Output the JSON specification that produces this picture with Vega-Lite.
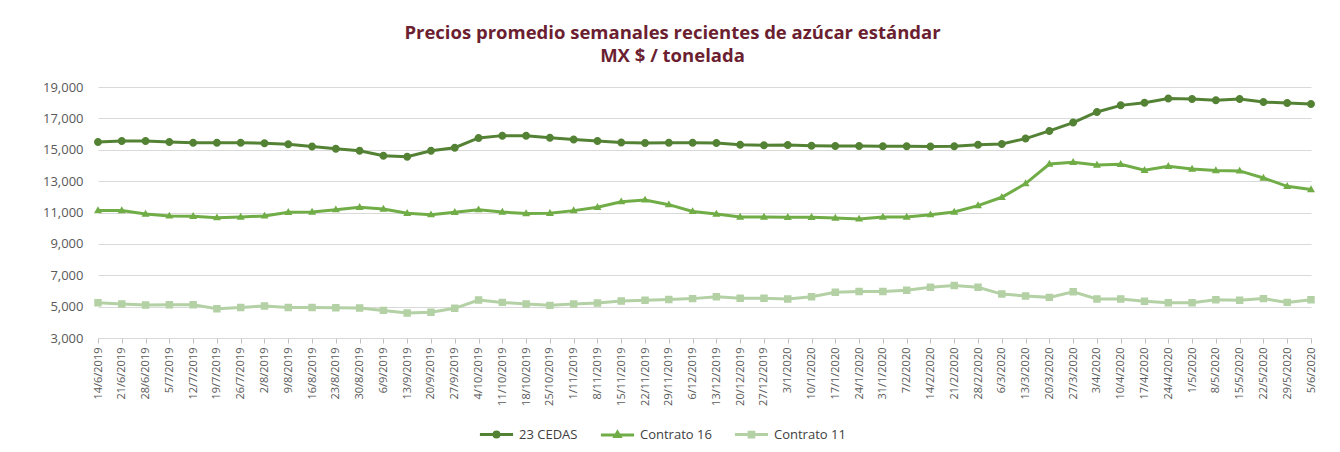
{
  "$schema": "https://vega.github.io/schema/vega-lite/v6.json",
  "autosize": {"type": "none"},
  "width": 1213,
  "height": 251,
  "padding": {"left": 98, "top": 87, "right": 29, "bottom": 114},
  "background": "white",
  "config": {
    "font": "Open Sans",
    "view": {"stroke": null}
  },
  "title": {
    "text": ["Precios promedio semanales recientes de azúcar estándar", "MX $ / tonelada"],
    "font": "Open Sans",
    "fontSize": 18.5,
    "fontWeight": "bold",
    "color": "#6B1F31",
    "anchor": "middle",
    "dx": -32,
    "lineHeight": 23,
    "offset": 16
  },
  "datasets": {
    "raw": [
      {"d":"14/6/2019","c":15490,"c16":11120,"c11":5250},
      {"d":"21/6/2019","c":15560,"c16":11120,"c11":5170},
      {"d":"28/6/2019","c":15560,"c16":10900,"c11":5100},
      {"d":"5/7/2019","c":15490,"c16":10780,"c11":5120},
      {"d":"12/7/2019","c":15450,"c16":10760,"c11":5120},
      {"d":"19/7/2019","c":15450,"c16":10670,"c11":4870},
      {"d":"26/7/2019","c":15450,"c16":10710,"c11":4950},
      {"d":"2/8/2019","c":15410,"c16":10780,"c11":5040},
      {"d":"9/8/2019","c":15350,"c16":11010,"c11":4950},
      {"d":"16/8/2019","c":15200,"c16":11030,"c11":4950},
      {"d":"23/8/2019","c":15070,"c16":11180,"c11":4930},
      {"d":"30/8/2019","c":14940,"c16":11330,"c11":4910},
      {"d":"6/9/2019","c":14620,"c16":11220,"c11":4760},
      {"d":"13/9/2019","c":14560,"c16":10950,"c11":4590},
      {"d":"20/9/2019","c":14940,"c16":10860,"c11":4640},
      {"d":"27/9/2019","c":15130,"c16":11010,"c11":4890},
      {"d":"4/10/2019","c":15750,"c16":11180,"c11":5420},
      {"d":"11/10/2019","c":15900,"c16":11030,"c11":5270},
      {"d":"18/10/2019","c":15900,"c16":10930,"c11":5170},
      {"d":"25/10/2019","c":15770,"c16":10950,"c11":5080},
      {"d":"1/11/2019","c":15660,"c16":11120,"c11":5170},
      {"d":"8/11/2019","c":15560,"c16":11330,"c11":5230},
      {"d":"15/11/2019","c":15470,"c16":11690,"c11":5360},
      {"d":"22/11/2019","c":15430,"c16":11800,"c11":5400},
      {"d":"29/11/2019","c":15450,"c16":11500,"c11":5460},
      {"d":"6/12/2019","c":15450,"c16":11070,"c11":5510},
      {"d":"13/12/2019","c":15430,"c16":10900,"c11":5630},
      {"d":"20/12/2019","c":15320,"c16":10710,"c11":5530},
      {"d":"27/12/2019","c":15280,"c16":10710,"c11":5530},
      {"d":"3/1/2020","c":15300,"c16":10690,"c11":5490},
      {"d":"10/1/2020","c":15260,"c16":10690,"c11":5630},
      {"d":"17/1/2020","c":15240,"c16":10650,"c11":5910},
      {"d":"24/1/2020","c":15240,"c16":10590,"c11":5970},
      {"d":"31/1/2020","c":15230,"c16":10710,"c11":5970},
      {"d":"7/2/2020","c":15220,"c16":10710,"c11":6040},
      {"d":"14/2/2020","c":15200,"c16":10860,"c11":6230},
      {"d":"21/2/2020","c":15220,"c16":11030,"c11":6340},
      {"d":"28/2/2020","c":15320,"c16":11440,"c11":6230},
      {"d":"6/3/2020","c":15370,"c16":11970,"c11":5800},
      {"d":"13/3/2020","c":15710,"c16":12840,"c11":5680},
      {"d":"20/3/2020","c":16200,"c16":14090,"c11":5590},
      {"d":"27/3/2020","c":16730,"c16":14200,"c11":5950},
      {"d":"3/4/2020","c":17410,"c16":14030,"c11":5490},
      {"d":"10/4/2020","c":17830,"c16":14070,"c11":5490},
      {"d":"17/4/2020","c":18000,"c16":13690,"c11":5340},
      {"d":"24/4/2020","c":18260,"c16":13940,"c11":5250},
      {"d":"1/5/2020","c":18240,"c16":13770,"c11":5250},
      {"d":"8/5/2020","c":18150,"c16":13670,"c11":5440},
      {"d":"15/5/2020","c":18240,"c16":13650,"c11":5400},
      {"d":"22/5/2020","c":18040,"c16":13200,"c11":5510},
      {"d":"29/5/2020","c":17980,"c16":12670,"c11":5270},
      {"d":"5/6/2020","c":17920,"c16":12460,"c11":5440}
    ]
  },
  "data": {"name": "raw"},
  "transform": [
    {"fold": ["c", "c16", "c11"], "as": ["key", "v"]},
    {"lookup": "key", "from": {"data": {"values": [
      {"key": "c", "s": "23 CEDAS"},
      {"key": "c16", "s": "Contrato 16"},
      {"key": "c11", "s": "Contrato 11"}
    ]}, "key": "key", "fields": ["s"]}}
  ],
  "encoding": {
    "x": {
      "field": "d", "type": "ordinal", "sort": null,
      "scale": {"type": "point", "padding": 0},
      "axis": {
        "title": null, "labelAngle": -90, "labelFontSize": 11, "labelColor": "#595959",
        "labelPadding": 4, "tickSize": 5, "tickColor": "#bfbfbf", "domainColor": "#d9d9d9",
        "grid": false, "labelFont": "Open Sans"
      }
    },
    "y": {
      "field": "v", "type": "quantitative",
      "scale": {"domain": [3000, 19000], "nice": false, "zero": false},
      "axis": {
        "title": null, "values": [3000, 5000, 7000, 9000, 11000, 13000, 15000, 17000, 19000],
        "format": ",.0f", "labelFontSize": 13, "labelColor": "#595959", "labelPadding": 15,
        "ticks": false, "domain": false, "gridColor": "#d9d9d9", "labelFont": "Open Sans"
      }
    },
    "color": {
      "field": "s", "type": "nominal",
      "scale": {"domain": ["23 CEDAS", "Contrato 16", "Contrato 11"], "range": ["#548235", "#70AD47", "#B3D1A5"]}
    }
  },
  "layer": [
    {
      "mark": {"type": "line", "strokeWidth": 3},
      "encoding": {
        "color": {
          "field": "s", "type": "nominal",
          "scale": {"domain": ["23 CEDAS", "Contrato 16", "Contrato 11"], "range": ["#548235", "#70AD47", "#B3D1A5"]},
          "legend": {
            "title": null, "orient": "none", "direction": "horizontal",
            "legendX": 380, "legendY": 329,
            "labelFontSize": 13, "labelColor": "#404040", "labelFont": "Open Sans",
            "symbolSize": 1100, "symbolStrokeWidth": 3, "columnPadding": 16, "labelOffset": 4
          }
        }
      }
    },
    {
      "mark": {"type": "point", "filled": true, "opacity": 1},
      "encoding": {
        "color": {
          "field": "s", "type": "nominal",
          "scale": {"domain": ["23 CEDAS", "Contrato 16", "Contrato 11"], "range": ["#548235", "#70AD47", "#B3D1A5"]},
          "legend": null
        },
        "shape": {
          "field": "s", "type": "nominal",
          "scale": {
            "domain": ["23 CEDAS", "Contrato 16", "Contrato 11"],
            "range": [
              "M-1,0H1M-0.15,0A0.15,0.15,0,1,0,0.15,0A0.15,0.15,0,1,0,-0.15,0Z",
              "M-1,0H1M0,-0.16L0.15,0.1L-0.15,0.1Z",
              "M-1,0H1M-0.14,-0.14H0.14V0.14H-0.14Z"
            ]
          },
          "legend": null
        },
        "size": {"value": 2844}
      }
    }
  ]
}
